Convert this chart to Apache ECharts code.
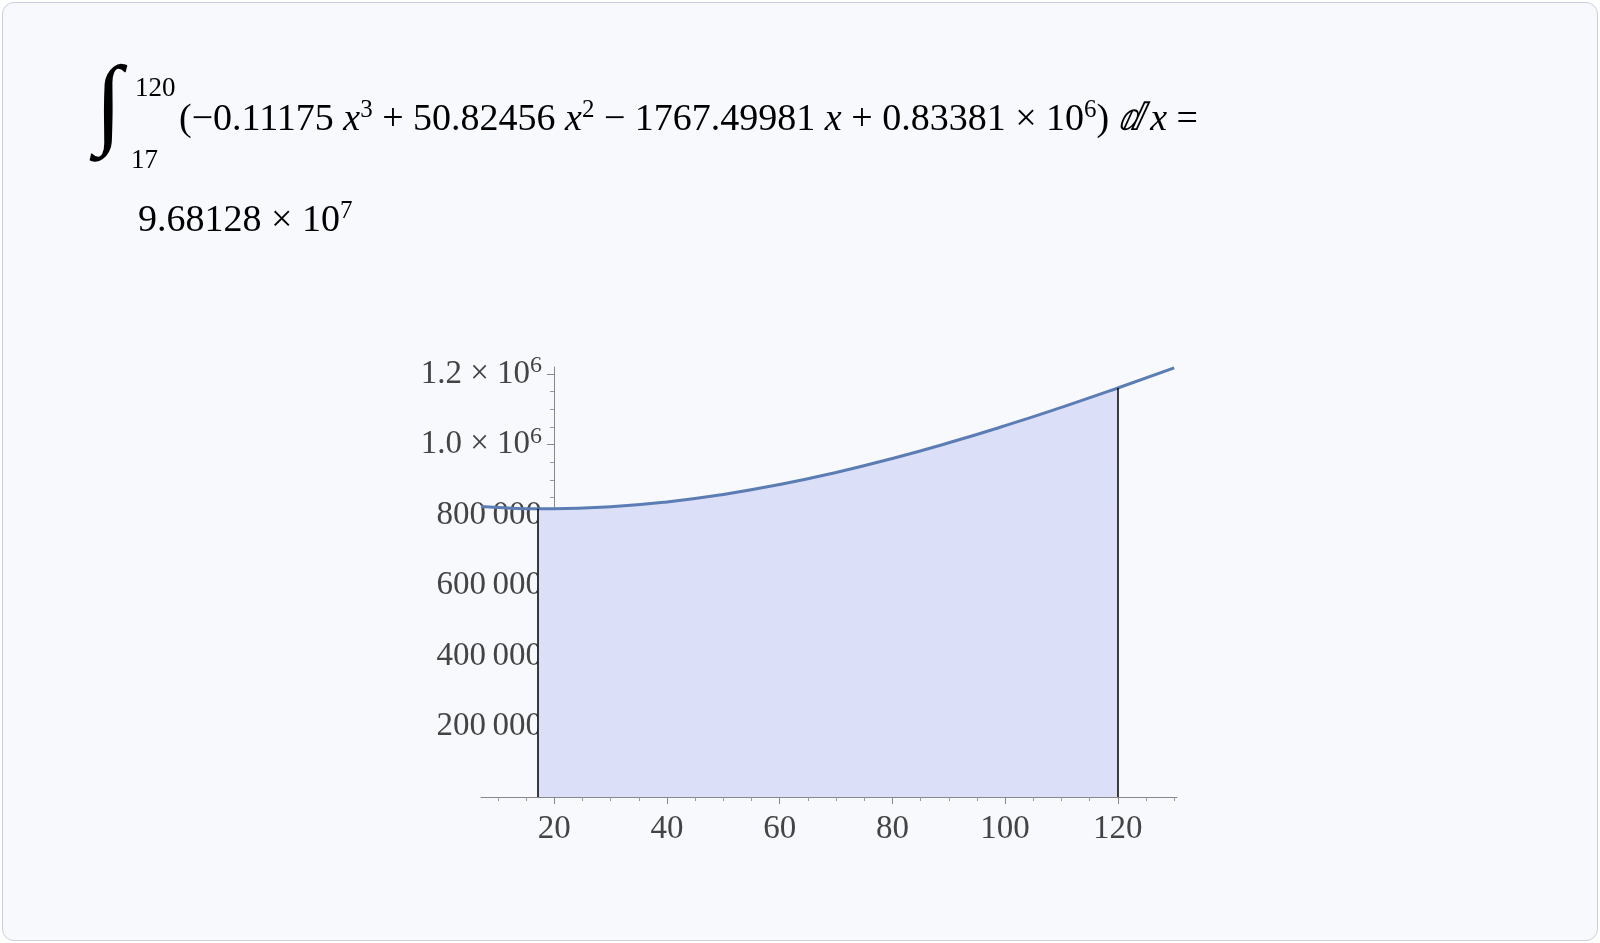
<!DOCTYPE html>
<html><head><meta charset="utf-8">
<script src="https://cdn.jsdelivr.net/npm/echarts@6/dist/echarts.min.js"></script>
<style>
html,body{margin:0;padding:0;background:#fff}
#main{position:absolute;left:2px;top:2px;width:1594px;height:937px;border:1px solid #c9cfe0;border-radius:12px;background:#f8f9fd}
</style></head><body>
<div id="main"></div>
<script>
var xs = [7, 10, 17, 20, 30, 40, 50, 60, 70, 80, 90, 100, 110, 120, 130];
var ys = [823890, 821106, 817902, 817896, 823510, 837277, 858527, 886590, 920795, 960471, 1004948, 1053556, 1105623, 1160480, 1217452];
var lowerX = 17, upperX = 120;
var xTicks = [20, 40, 60, 80, 100, 120];
var yTicks = [200000, 400000, 600000, 800000, 1000000, 1200000];

var myChart = echarts.init(document.getElementById('main'));
var F = '"Liberation Serif", "DejaVu Serif", serif';

var line = [], area = [];
for (var i = 0; i < xs.length; i++) {
    line.push([xs[i], ys[i]]);
    if (xs[i] >= lowerX && xs[i] <= upperX) area.push([xs[i], ys[i]]);
}
var yLow = ys[xs.indexOf(lowerX)], yUp = ys[xs.indexOf(upperX)];

var xMinor = [], yMinor = [];
for (var v = 10; v <= 130; v += 5) if (v % 20) xMinor.push(v);
for (var w = 50000; w <= 1200000; w += 50000) if (w % 200000) yMinor.push(w);

function yLab(v) {
    if (v >= 1000000) return (v / 1000000).toFixed(1) + ' × 10{s|6}';
    var s = String(v);
    return s.slice(0, s.length - 3) + '\u2009' + s.slice(-3);
}

var axisBase = {type: 'value', splitLine: {show: false}};
option = {
    animation: false,
    grid: {left: 478, width: 696, top: 364, height: 430},
    xAxis: [
        Object.assign({}, axisBase, {min: 7, max: 130.5,
            axisLine: {lineStyle: {color: '#888'}},
            axisTick: {customValues: xTicks, length: 7, lineStyle: {color: '#888'}},
            axisLabel: {customValues: xTicks, fontFamily: F, fontSize: 33, color: '#444', margin: 16}}),
        Object.assign({}, axisBase, {min: 7, max: 130.5, position: 'bottom',
            axisLine: {show: false},
            axisTick: {customValues: xMinor, length: 4, lineStyle: {color: '#999'}},
            axisLabel: {show: false}})
    ],
    yAxis: [
        Object.assign({}, axisBase, {min: 0, max: 1220000, offset: -73,
            axisLine: {show: true, lineStyle: {color: '#888'}},
            axisTick: {show: true, customValues: yTicks, length: 7, lineStyle: {color: '#888'}},
            axisLabel: {customValues: yTicks, fontFamily: F, fontSize: 33, color: '#444', margin: 12,
                formatter: yLab, rich: {s: {fontFamily: F, fontSize: 24, color: '#444', verticalAlign: 'top', padding: [0, 0, 16, 0]}}}}),
        Object.assign({}, axisBase, {min: 0, max: 1220000, position: 'left', offset: -73,
            axisLine: {show: false},
            axisTick: {show: true, customValues: yMinor, length: 4, lineStyle: {color: '#999'}},
            axisLabel: {show: false}})
    ],
    series: [
        {type: 'line', data: area, smooth: true, symbol: 'none', lineStyle: {width: 0},
            areaStyle: {color: '#dcdff8', opacity: 1}, z: 1,
            markLine: {symbol: 'none', silent: true, label: {show: false},
                lineStyle: {color: '#000', width: 1.5, type: 'solid'},
                data: [[{coord: [lowerX, 0]}, {coord: [lowerX, yLow]}], [{coord: [upperX, 0]}, {coord: [upperX, yUp]}]]}},
        {type: 'line', data: line, smooth: true, symbol: 'none', lineStyle: {color: '#5b7db4', width: 3}, z: 3}
    ],
    graphic: [
        {type: 'text', left: 92, top: 56, style: {text: '∫', font: '100px ' + F, fill: '#000'}},
        {type: 'text', left: 132, top: 72, style: {text: '120', font: '27px ' + F, fill: '#000'}},
        {type: 'text', left: 128, top: 144, style: {text: '17', font: '27px ' + F, fill: '#000'}},
        {type: 'text', left: 176, top: 95, style: {
            text: '(−0.11175 {i|x}{s|3} + 50.82456 {i|x}{s|2} − 1767.49981 {i|x} + 0.83381 {g|×} 10{s|6}) {i|ⅆ x} =',
            font: '38px ' + F, fill: '#000',
            rich: {i: {fontFamily: F, fontSize: 38, fontStyle: 'italic'},
                s: {fontFamily: F, fontSize: 25, verticalAlign: 'top', padding: [0, 0, 20, 0]},
                g: {fontFamily: F, fontSize: 38, color: '#bbb'}}}},
        {type: 'text', left: 135, top: 196, style: {
            text: '9.68128 × 10{s|7}', font: '38px ' + F, fill: '#000',
            rich: {s: {fontFamily: F, fontSize: 25, verticalAlign: 'top', padding: [0, 0, 20, 0]}}}}
    ]
};
myChart.setOption(option);
</script>
</body></html>
